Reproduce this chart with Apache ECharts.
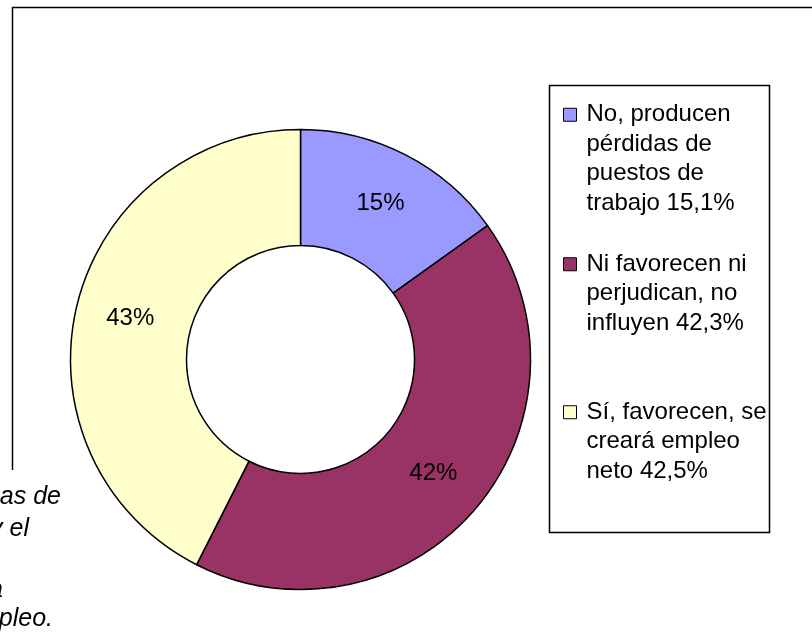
<!DOCTYPE html>
<html>
<head>
<meta charset="utf-8">
<script src="https://cdn.jsdelivr.net/npm/echarts@6/dist/echarts.min.js"></script>
<style>
  html, body { margin: 0; padding: 0; background: #fff; }
</style>
</head>
<body>
<!-- contenedor del gráfico -->
<div id="main" style="width: 812px;height:634px;"></div>
<script>
// categorías (texto de la leyenda)
var categorias = [
  'No, producen\npérdidas de\npuestos de\ntrabajo 15,1%',
  'Ni favorecen ni\nperjudican, no\ninfluyen 42,3%',
  'Sí, favorecen, se\ncreará empleo\nneto 42,5%'
];
// porcentajes
var valores = [15.1, 42.3, 42.5];
// colores de cada sector
var colores = ['#9999FF', '#993366', '#FFFFCC'];
// texto recortado a la izquierda (pie de figura)
var pieTexto = ['as de', 'y el', 'a', 'empleo.'];

var fuente = '"Liberation Sans", Arial, sans-serif';
var lh = 29.5;
var legendTops = [11.5, 190.5, 338.5];
var textRight = [61, 29, 3, 53];
var textY = [497, 529, 590, 619];

var myChart = echarts.init(document.getElementById('main'));

// una leyenda por elemento para colocar cada uno donde está
var leyendas = categorias.map(function (nombre, i) {
  var lineas = nombre.split('\n').length;
  return {
    data: [nombre],
    orient: 'vertical',
    left: 563,
    top: legendTops[i],
    padding: 0,
    selectedMode: false,
    icon: 'rect',
    itemWidth: 13,
    itemHeight: 13,
    itemStyle: { borderColor: '#000', borderWidth: 1 },
    // líneas vacías delante para que el cuadro quede junto a la primera línea
    formatter: function (name) {
      return new Array(lineas).join('\n') + name;
    },
    textStyle: {
      fontFamily: fuente,
      fontSize: 24,
      color: '#000',
      lineHeight: lh,
      padding: [0, 0, 0, 5]
    }
  };
});

var graficos = [
  {
    type: 'polyline',
    shape: { points: [[12.5, 470], [12.5, 7.5], [812, 7.5]] },
    style: { stroke: '#000', lineWidth: 1.5, fill: null },
    z: -1
  },
  {
    type: 'rect',
    shape: { x: 549.5, y: 85.5, width: 220, height: 447 },
    style: { stroke: '#000', lineWidth: 1.5, fill: '#fff' },
    z: -1
  }
];
pieTexto.forEach(function (t, i) {
  graficos.push({
    type: 'text',
    style: {
      text: t,
      x: textRight[i],
      y: textY[i],
      textAlign: 'right',
      textVerticalAlign: 'middle',
      font: 'italic 25px ' + fuente,
      fill: '#000'
    }
  });
});

var option = {
  backgroundColor: '#fff',
  animation: false,
  legend: leyendas,
  graphic: graficos,
  series: [
    {
      type: 'pie',
      center: [300.5, 359.5],
      radius: [114, 230],
      startAngle: 90,
      clockwise: true,
      percentPrecision: 0,
      avoidLabelOverlap: false,
      label: {
        show: true,
        position: 'inside',
        formatter: '{d}%',
        fontFamily: fuente,
        fontSize: 24,
        color: '#000'
      },
      labelLine: { show: false },
      emphasis: { disabled: true },
      itemStyle: { borderColor: '#000', borderWidth: 1.5 },
      data: categorias.map(function (c, i) {
        return { name: c, value: valores[i], itemStyle: { color: colores[i] } };
      })
    }
  ]
};

myChart.setOption(option);
</script>
</body>
</html>
